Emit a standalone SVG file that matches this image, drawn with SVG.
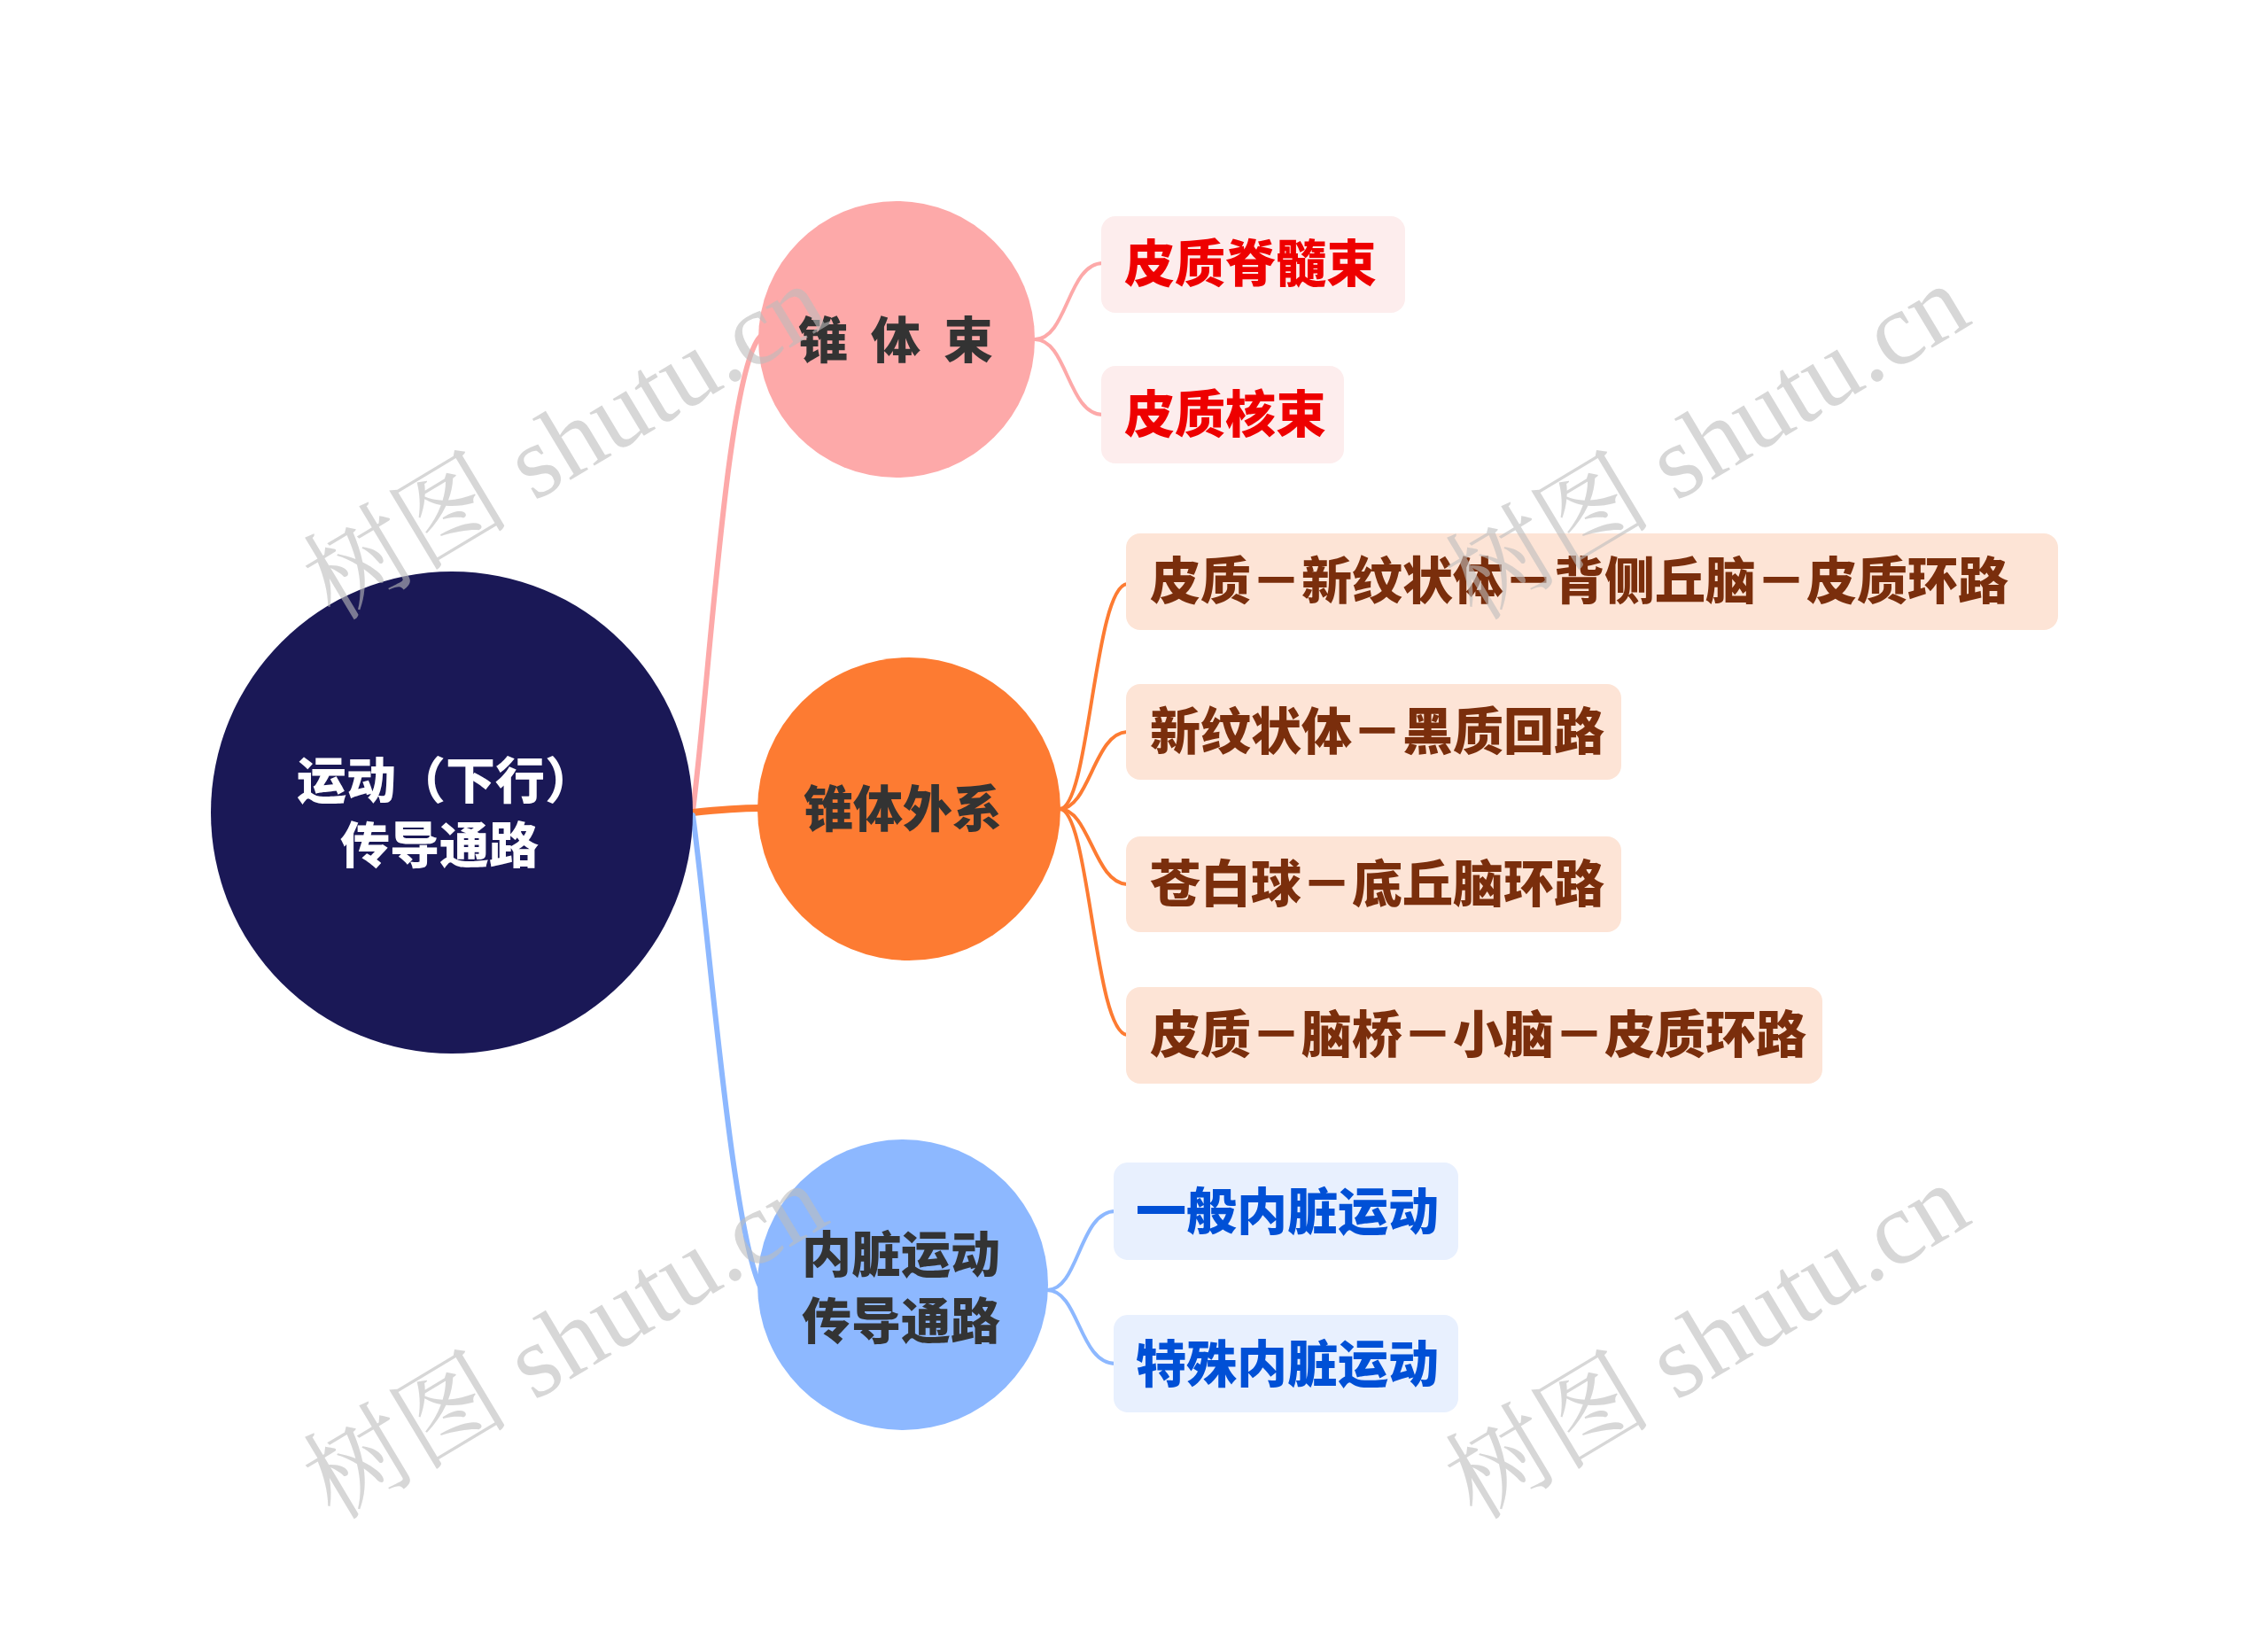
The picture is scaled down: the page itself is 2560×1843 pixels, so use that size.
<svg xmlns="http://www.w3.org/2000/svg" width="2560" height="1843" viewBox="0 0 2560 1843">
<style>
.t{font-family:"Noto Sans CJK SC","Noto Sans",sans-serif;font-weight:900;font-size:56px}
.tl{font-size:57px}
.leafr{fill:#fdeded}
.leafo{fill:#fde4d6}
.leafb{fill:#e8f0fe}
.tr{fill:#ee0000}
.to{fill:#7a2e0c}
.tb{fill:#0050d6}
.td{fill:#333333}
.c{fill:none;stroke-linecap:round}
.wm{font-family:"Liberation Serif","Noto Serif CJK SC","Noto Sans CJK SC",serif;font-size:117px;fill:#bdbdbd;fill-opacity:0.6}
</style>
<rect width="2560" height="1843" fill="#ffffff"/>
<g id="connectors">
<path class="c" d="M 782 915 C 800 780, 820 420, 858 380" stroke="#fda9a9" stroke-width="6"/>
<path class="c" d="M 782 917 C 810 914, 830 912, 858 912" stroke="#fd7b32" stroke-width="8"/>
<path class="c" d="M 782 920 C 800 1050, 825 1380, 858 1452" stroke="#8db8ff" stroke-width="6"/>
<path class="c" d="M 1168 383 C 1205 383, 1205 297, 1245 297" stroke="#fda9a9" stroke-width="4"/>
<path class="c" d="M 1168 383 C 1205 383, 1205 468, 1245 468" stroke="#fda9a9" stroke-width="4"/>
<path class="c" d="M 1196 913 C 1230 913, 1235 659, 1273 659" stroke="#fd7b32" stroke-width="4"/>
<path class="c" d="M 1196 913 C 1230 913, 1235 826, 1273 826" stroke="#fd7b32" stroke-width="4"/>
<path class="c" d="M 1196 913 C 1230 913, 1235 998, 1273 998" stroke="#fd7b32" stroke-width="4"/>
<path class="c" d="M 1196 913 C 1230 913, 1235 1168, 1273 1168" stroke="#fd7b32" stroke-width="4"/>
<path class="c" d="M 1182 1456 C 1218 1456, 1218 1367, 1259 1367" stroke="#8db8ff" stroke-width="4"/>
<path class="c" d="M 1182 1456 C 1218 1456, 1218 1539, 1259 1539" stroke="#8db8ff" stroke-width="4"/>
</g>
<g id="root">
<circle cx="510" cy="917" r="272" fill="#1a1856"/>
<text class="t" x="503" y="901" text-anchor="middle" fill="#ffffff">运动（下行）</text>
<text class="t" x="496" y="974" text-anchor="middle" fill="#ffffff">传导通路</text>
</g>
<g id="n-zhuitishu">
<circle cx="1012" cy="383" r="156" fill="#fda9a9"/>
<text class="t td" y="404" text-anchor="middle"><tspan x="929">锥</tspan><tspan x="1011">体</tspan><tspan x="1093">束</tspan></text>
</g>
<g id="n-zhuitiwaixi">
<circle cx="1026" cy="913" r="171" fill="#fd7b32"/>
<text class="t td" x="1019" y="933" text-anchor="middle">锥体外系</text>
</g>
<g id="n-neizang">
<circle cx="1019" cy="1450" r="164" fill="#8db8ff"/>
<text class="t td" x="1017" y="1436" text-anchor="middle">内脏运动</text>
<text class="t td" x="1017" y="1511" text-anchor="middle">传导通路</text>
</g>
<g id="l-pizhijisuishu">
<rect class="leafr" x="1243" y="244" width="343" height="109" rx="16"/>
<text class="t tl tr" x="1269" y="318">皮质脊髓束</text>
</g>
<g id="l-pizhiheshu">
<rect class="leafr" x="1243" y="413" width="274" height="110" rx="16"/>
<text class="t tl tr" x="1269" y="488">皮质核束</text>
</g>
<g id="l-o1">
<rect class="leafo" x="1271" y="602" width="1052" height="109" rx="16"/>
<text class="t tl to" x="1298" y="676">皮质－新纹状体－背侧丘脑－皮质环路</text>
</g>
<g id="l-o2">
<rect class="leafo" x="1271" y="772" width="559" height="108" rx="16"/>
<text class="t tl to" x="1298" y="846">新纹状体－黑质回路</text>
</g>
<g id="l-o3">
<rect class="leafo" x="1271" y="944" width="559" height="108" rx="16"/>
<text class="t tl to" x="1298" y="1018">苍白球－底丘脑环路</text>
</g>
<g id="l-o4">
<rect class="leafo" x="1271" y="1114" width="786" height="109" rx="16"/>
<text class="t tl to" x="1298" y="1188">皮质－脑桥－小脑－皮质环路</text>
</g>
<g id="l-b1">
<rect class="leafb" x="1257" y="1312" width="389" height="110" rx="16"/>
<text class="t tl tb" x="1282" y="1388">一般内脏运动</text>
</g>
<g id="l-b2">
<rect class="leafb" x="1257" y="1484" width="389" height="110" rx="16"/>
<text class="t tl tb" x="1282" y="1560">特殊内脏运动</text>
</g>
<g id="watermarks">
<text class="wm" transform="translate(377,702) rotate(-31)">树图 shutu.cn</text>
<text class="wm" transform="translate(1666,702) rotate(-31)">树图 shutu.cn</text>
<text class="wm" transform="translate(377,1717) rotate(-31)">树图 shutu.cn</text>
<text class="wm" transform="translate(1666,1717) rotate(-31)">树图 shutu.cn</text>
</g>
</svg>
